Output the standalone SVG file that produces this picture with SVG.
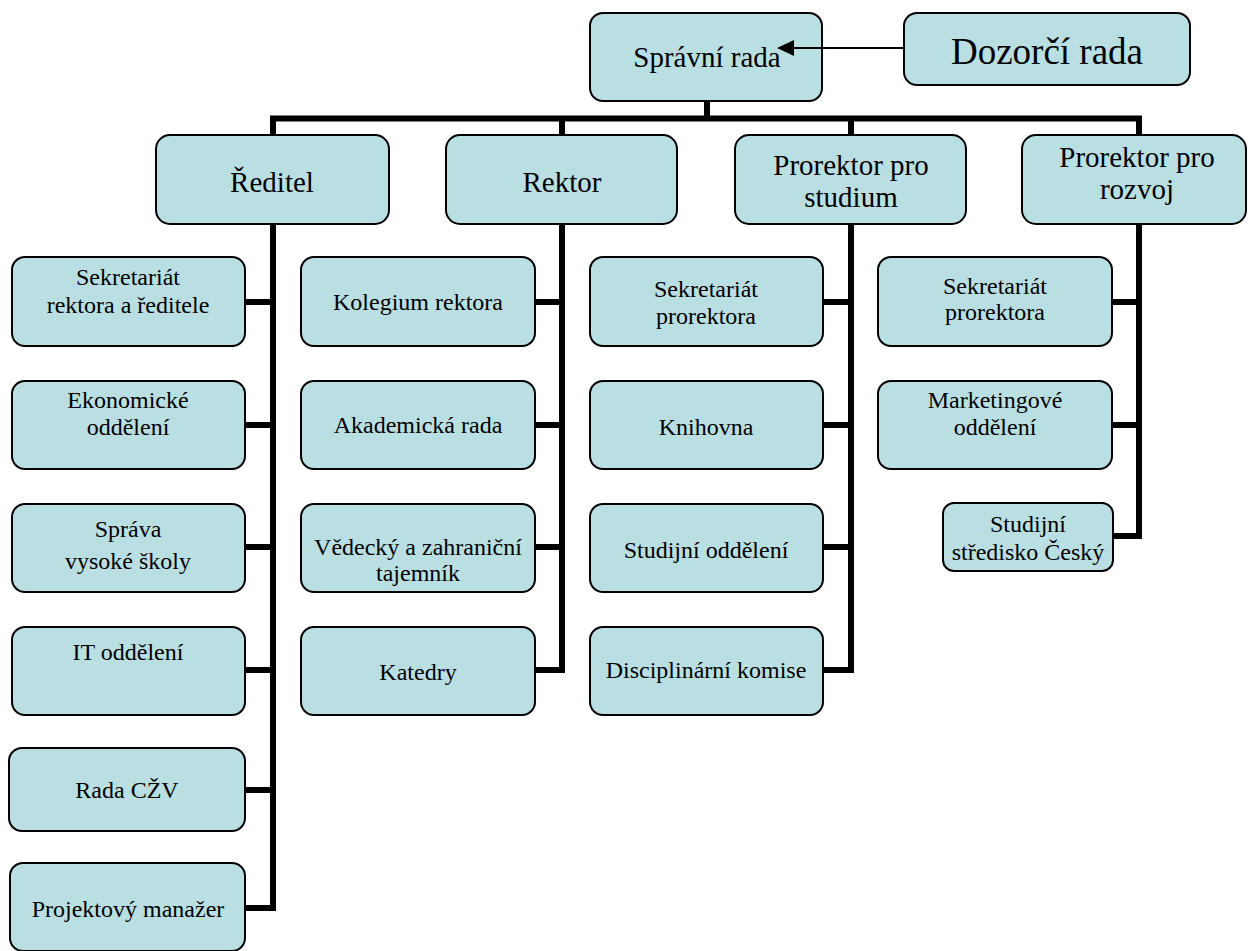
<svg xmlns="http://www.w3.org/2000/svg" width="1248" height="951" viewBox="0 0 1248 951">
<defs>
<style>
.box{fill:#badfe3;stroke:#000;stroke-width:2}
.bus{fill:none;stroke:#000;stroke-width:6;stroke-linejoin:miter}
</style>
</defs>
<rect width="1248" height="951" fill="#fff"/>
<g id="connectors">
<path class="bus" d="M707,101 V118.5 M273,136 V118.5 H1139 V136 M562,118.5 V136 M851,118.5 V136"/>
<path class="bus" d="M273,224 V908 H245 M245,302 H273 M245,425 H273 M245,547 H273 M245,670 H273 M245,790 H273"/>
<path class="bus" d="M562,224 V670 H535 M535,302 H562 M535,425 H562 M535,547 H562"/>
<path class="bus" d="M851,224 V670 H823 M823,302 H851 M823,425 H851 M823,547 H851"/>
<path class="bus" d="M1139,224 V536 H1113 M1112,302 H1139 M1112,425 H1139"/>
</g>
<g font-family="'Liberation Serif', 'Times New Roman', serif" text-anchor="middle" fill="#000">
<g id="spravni-rada"><rect class="box" x="590" y="13" width="232" height="88" rx="13"/><text x="707" y="67" font-size="29">Správní rada</text></g>
<g id="dozorci-rada"><rect class="box" x="904" y="13" width="286" height="72" rx="13"/><text x="1047" y="64" font-size="37">Dozorčí rada</text></g>
<g id="arrow"><line x1="904" y1="48" x2="788" y2="48" stroke="#000" stroke-width="2"/><polygon points="777,48 794,40 794,56" fill="#000"/></g>
<g font-size="29">
<g id="reditel"><rect class="box" x="156" y="135" width="233" height="89" rx="14"/><text x="272" y="192">Ředitel</text></g>
<g id="rektor"><rect class="box" x="446" y="135" width="231" height="89" rx="14"/><text x="562" y="192">Rektor</text></g>
<g id="prorektor-studium"><rect class="box" x="735" y="135" width="231" height="89" rx="14"/><text x="851" y="175">Prorektor pro</text><text x="851" y="207">studium</text></g>
<g id="prorektor-rozvoj"><rect class="box" x="1022" y="135" width="224" height="89" rx="14"/><text x="1137" y="167">Prorektor pro</text><text x="1137" y="199">rozvoj</text></g>
</g>
<g font-size="24">
<g id="sekretariat-rektora"><rect class="box" x="12" y="257" width="233" height="89" rx="13"/><text x="128" y="285">Sekretariát</text><text x="128" y="313">rektora a ředitele</text></g>
<g id="ekonomicke"><rect class="box" x="12" y="381" width="233" height="88" rx="13"/><text x="128" y="408">Ekonomické</text><text x="128" y="435">oddělení</text></g>
<g id="sprava-vs"><rect class="box" x="12" y="504" width="233" height="88" rx="13"/><text x="128" y="537">Správa</text><text x="128" y="569">vysoké školy</text></g>
<g id="it"><rect class="box" x="12" y="627" width="233" height="88" rx="13"/><text x="128" y="660">IT oddělení</text></g>
<g id="rada-czv"><rect class="box" x="9" y="748" width="236" height="83" rx="13"/><text x="127" y="798">Rada CŽV</text></g>
<g id="projektovy"><rect class="box" x="10" y="863" width="235" height="88" rx="13"/><text x="128" y="917">Projektový manažer</text></g>
<g id="kolegium"><rect class="box" x="301" y="257" width="234" height="89" rx="13"/><text x="418" y="310">Kolegium rektora</text></g>
<g id="akademicka"><rect class="box" x="301" y="381" width="234" height="88" rx="13"/><text x="418" y="433">Akademická rada</text></g>
<g id="vedecky"><rect class="box" x="301" y="504" width="234" height="88" rx="13"/><text x="418" y="555">Vědecký a zahraniční</text><text x="418" y="581">tajemník</text></g>
<g id="katedry"><rect class="box" x="301" y="627" width="234" height="88" rx="13"/><text x="418" y="680">Katedry</text></g>
<g id="sekretariat-prorektora-1"><rect class="box" x="590" y="257" width="233" height="89" rx="13"/><text x="706" y="297">Sekretariát</text><text x="706" y="324">prorektora</text></g>
<g id="knihovna"><rect class="box" x="590" y="381" width="233" height="88" rx="13"/><text x="706" y="435">Knihovna</text></g>
<g id="studijni-oddeleni"><rect class="box" x="590" y="504" width="233" height="88" rx="13"/><text x="706" y="558">Studijní oddělení</text></g>
<g id="disciplinarni"><rect class="box" x="590" y="627" width="233" height="88" rx="13"/><text x="706" y="678">Disciplinární komise</text></g>
<g id="sekretariat-prorektora-2"><rect class="box" x="878" y="257" width="234" height="89" rx="13"/><text x="995" y="294">Sekretariát</text><text x="995" y="320">prorektora</text></g>
<g id="marketingove"><rect class="box" x="878" y="381" width="234" height="88" rx="13"/><text x="995" y="408">Marketingové</text><text x="995" y="435">oddělení</text></g>
<g id="studijni-stredisko"><rect class="box" x="943" y="503" width="170" height="68" rx="11"/><text x="1028" y="532">Studijní</text><text x="1028" y="560">středisko Český</text></g>
</g>
</g>
</svg>
